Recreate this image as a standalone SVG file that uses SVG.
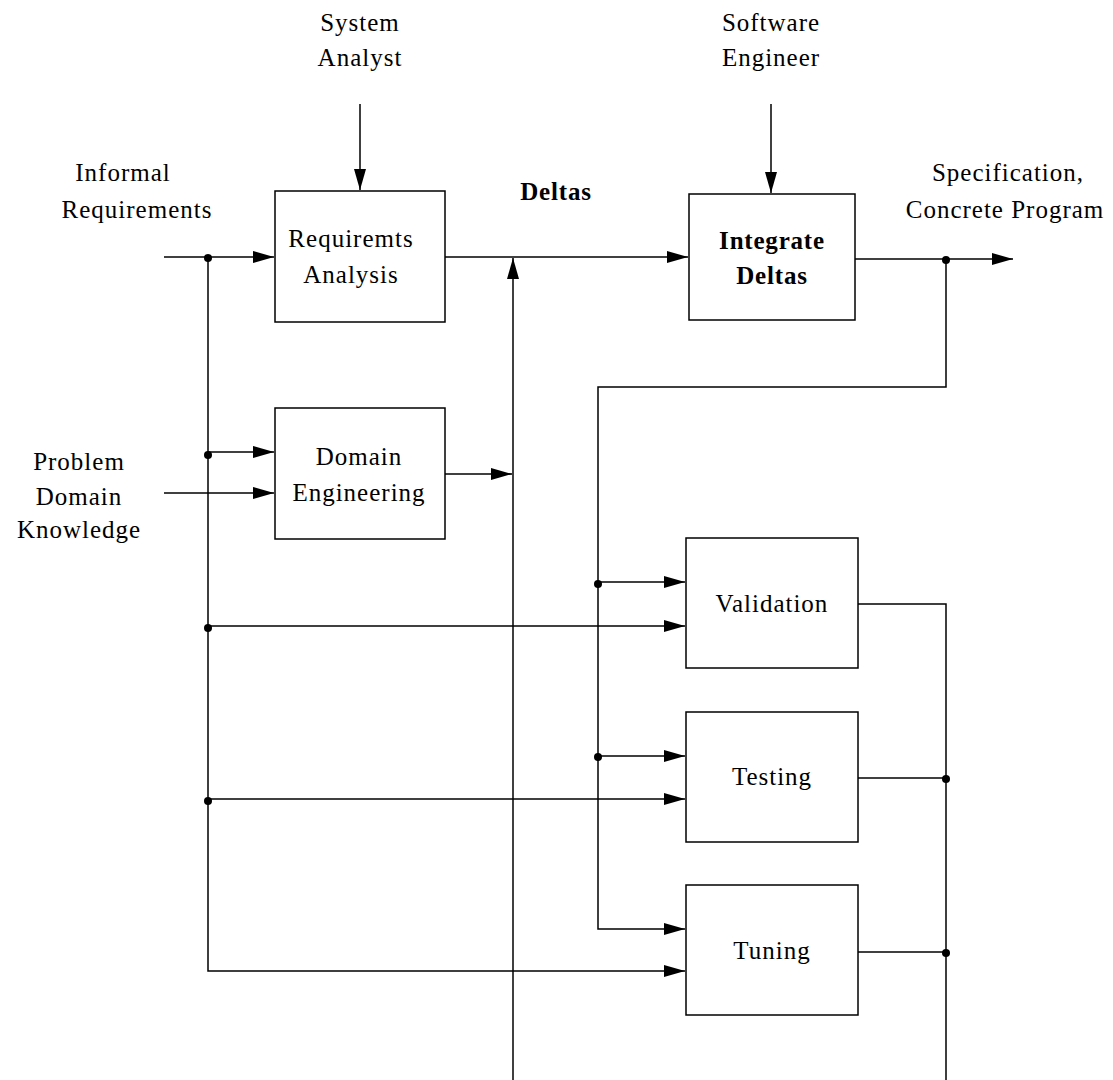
<svg xmlns="http://www.w3.org/2000/svg" width="1113" height="1080" viewBox="0 0 1113 1080">
<style>
.box{fill:#fff;stroke:#000;stroke-width:1.5}
.ln{fill:none;stroke:#000;stroke-width:1.5}
.t{font-family:"Liberation Serif","DejaVu Serif",serif;font-size:25px;letter-spacing:1px;fill:#000;text-anchor:middle}
.b{font-weight:bold;letter-spacing:0.8px}
</style>
<defs>
<marker id="ah" markerUnits="userSpaceOnUse" markerWidth="22" markerHeight="12" refX="21" refY="6" orient="auto">
<path d="M0,0 L21,6 L0,12 Z" fill="#000"/>
</marker>
</defs>
<g id="connectors">
<path class="ln" d="M360,104 V190" marker-end="url(#ah)"/>
<path class="ln" d="M771,104 V193" marker-end="url(#ah)"/>
<path class="ln" d="M164,257 H274" marker-end="url(#ah)"/>
<path class="ln" d="M208,257 V971 H685" marker-end="url(#ah)"/>
<path class="ln" d="M208,452 H274" marker-end="url(#ah)"/>
<path class="ln" d="M164,493 H274" marker-end="url(#ah)"/>
<path class="ln" d="M208,626 H685" marker-end="url(#ah)"/>
<path class="ln" d="M208,799 H685" marker-end="url(#ah)"/>
<path class="ln" d="M445,257 H688" marker-end="url(#ah)"/>
<path class="ln" d="M513,1080 V258" marker-end="url(#ah)"/>
<path class="ln" d="M445,474 H512" marker-end="url(#ah)"/>
<path class="ln" d="M855,259 H1013" marker-end="url(#ah)"/>
<path class="ln" d="M946,259 V387 H598 V929 H685" marker-end="url(#ah)"/>
<path class="ln" d="M598,582 H685" marker-end="url(#ah)"/>
<path class="ln" d="M598,756 H685" marker-end="url(#ah)"/>
<path class="ln" d="M858,604 H946 V1080"/>
<path class="ln" d="M858,778 H946"/>
<path class="ln" d="M858,952 H946"/>
<circle cx="208" cy="258" r="4"/>
<circle cx="208" cy="455" r="4"/>
<circle cx="208" cy="628" r="4"/>
<circle cx="208" cy="801" r="4"/>
<circle cx="946" cy="260" r="4"/>
<circle cx="598" cy="584" r="4"/>
<circle cx="598" cy="757" r="4"/>
<circle cx="946" cy="779" r="4"/>
<circle cx="946" cy="953" r="4"/>
</g>
<g id="requirements-analysis">
<rect class="box" x="275" y="191" width="170" height="131"/>
<text class="t" x="351" y="247">Requiremts</text>
<text class="t" x="351" y="283">Analysis</text>
</g>
<g id="integrate-deltas">
<rect class="box" x="689" y="194" width="166" height="126"/>
<text class="t b" x="772" y="249">Integrate</text>
<text class="t b" x="772" y="284">Deltas</text>
</g>
<g id="domain-engineering">
<rect class="box" x="275" y="408" width="170" height="131"/>
<text class="t" x="359" y="465">Domain</text>
<text class="t" x="359" y="501">Engineering</text>
</g>
<g id="validation">
<rect class="box" x="686" y="538" width="172" height="130"/>
<text class="t" x="772" y="612">Validation</text>
</g>
<g id="testing">
<rect class="box" x="686" y="712" width="172" height="130"/>
<text class="t" x="772" y="785">Testing</text>
</g>
<g id="tuning">
<rect class="box" x="686" y="885" width="172" height="130"/>
<text class="t" x="772" y="959">Tuning</text>
</g>
<g id="labels">
<text class="t" x="360" y="31">System</text>
<text class="t" x="360" y="66">Analyst</text>
<text class="t" x="771" y="31">Software</text>
<text class="t" x="771" y="66">Engineer</text>
<text class="t" x="123" y="181">Informal</text>
<text class="t" x="137" y="218">Requirements</text>
<text class="t b" x="556" y="200">Deltas</text>
<text class="t" x="1008" y="181">Specification,</text>
<text class="t" x="1005" y="218">Concrete Program</text>
<text class="t" x="79" y="470">Problem</text>
<text class="t" x="79" y="505">Domain</text>
<text class="t" x="79" y="538">Knowledge</text>
</g>
</svg>
